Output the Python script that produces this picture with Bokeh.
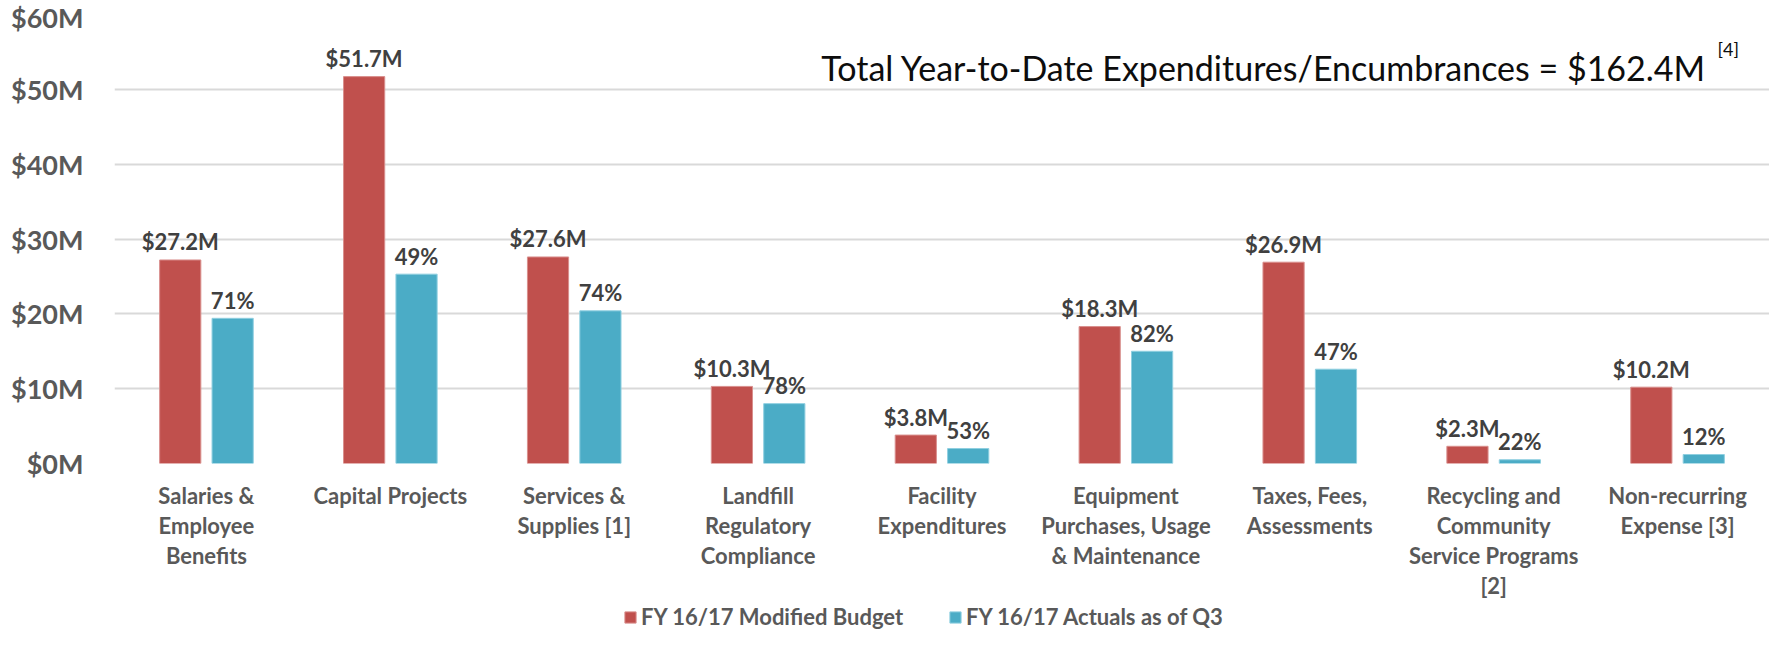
from bokeh.plotting import figure
from bokeh.layouts import column
from bokeh.models import ColumnDataSource, FixedTicker, Range1d, Legend, LegendItem, Label
from bokeh.transform import dodge
from bokeh.core.properties import value
from bokeh.embed import file_html
from bokeh.resources import INLINE

categories = [
    "Salaries &\nEmployee\nBenefits",
    "Capital Projects",
    "Services &\nSupplies [1]",
    "Landfill\nRegulatory\nCompliance",
    "Facility\nExpenditures",
    "Equipment\nPurchases, Usage\n& Maintenance",
    "Taxes, Fees,\nAssessments",
    "Recycling and\nCommunity\nService Programs\n[2]",
    "Non-recurring\nExpense [3]",
]
budget = [27.2, 51.7, 27.6, 10.3, 3.8, 18.3, 26.9, 2.3, 10.2]
actuals = [19.4, 25.3, 20.4, 8.0, 2.0, 15.0, 12.6, 0.5, 1.2]
pct_spent = [71, 49, 74, 78, 53, 82, 47, 22, 12]
y_ticks = [0, 10, 20, 30, 40, 50, 60]
y_tick_labels = ["$0M", "$10M", "$20M", "$30M", "$40M", "$50M", "$60M"]
series_names = ["FY 16/17 Modified Budget", "FY 16/17 Actuals as of Q3"]
title_text = "Total Year-to-Date Expenditures/Encumbrances = $162.4M"
title_note = "[4]"

RED = "#C0504D"
BLUE = "#4BACC6"
RED_EDGE = "#d98f8d"
BLUE_EDGE = "#8fcfe0"
FONT = "Lato"

xs = list(range(len(categories)))
src = ColumnDataSource(dict(
    x=xs,
    budget=budget,
    actuals=actuals,
    blabel=["$%.1fM" % v for v in budget],
    alabel=["%d%%" % v for v in pct_spent],
))

p = figure(width=1769, height=602, output_backend="svg", toolbar_location=None,
           x_range=Range1d(-0.5, len(categories) - 0.5), y_range=Range1d(0, 60),
           min_border_left=114, min_border_right=0, min_border_top=14, min_border_bottom=138)
p.outline_line_color = None
p.background_fill_color = "white"

off = 0.1425
bw = 0.224
p.vbar(x=dodge("x", -off, range=p.x_range), top="budget", width=bw, source=src,
       fill_color=RED, line_color=RED_EDGE, line_width=1)
p.vbar(x=dodge("x", off, range=p.x_range), top="actuals", width=bw, source=src,
       fill_color=BLUE, line_color=BLUE_EDGE, line_width=1)

common = dict(text_align="center", text_baseline="alphabetic", y_offset=-18,
              text_font=value(FONT), text_font_style="bold", text_font_size="22px",
              text_color="#404040")
p.text(x=dodge("x", -off, range=p.x_range), y="budget", text="blabel", source=src, **common)
p.text(x=dodge("x", off, range=p.x_range), y="actuals", text="alabel", source=src, **common)

# axes
p.yaxis.ticker = FixedTicker(ticks=y_ticks)
p.yaxis.major_label_overrides = dict(zip(y_ticks, y_tick_labels))
p.yaxis.axis_line_color = None
p.yaxis.major_tick_line_color = None
p.yaxis.minor_tick_line_color = None
p.yaxis.major_tick_out = 0
p.yaxis.major_label_standoff = 31
p.yaxis.major_label_text_font = FONT
p.yaxis.major_label_text_font_style = "bold"
p.yaxis.major_label_text_font_size = "27px"
p.yaxis.major_label_text_color = "#595959"

p.xaxis.ticker = FixedTicker(ticks=xs)
p.xaxis.major_label_overrides = dict(zip(xs, categories))
p.xaxis.axis_line_color = None
p.xaxis.major_tick_line_color = None
p.xaxis.minor_tick_line_color = None
p.xaxis.major_tick_out = 0
p.xaxis.major_label_standoff = 18
p.xaxis.major_label_text_font = FONT
p.xaxis.major_label_text_font_style = "bold"
p.xaxis.major_label_text_font_size = "22px"
p.xaxis.major_label_text_color = "#595959"
p.xaxis.major_label_text_line_height = 1.12

p.xgrid.grid_line_color = None
p.ygrid.grid_line_color = "#d9d9d9"
p.ygrid.grid_line_width = 2

# title annotation
p.add_layout(Label(x=8.157, y=52.93, text=title_text, text_align="right",
                   text_baseline="alphabetic", text_font=FONT, text_font_size="34px",
                   text_color="#0d0d0d"))
p.add_layout(Label(x=8.217, y=55.33, text=title_note, text_align="left",
                   text_baseline="alphabetic", text_font=FONT, text_font_size="18px",
                   text_color="#0d0d0d"))

# legend strip below the chart (its frame is aligned with the chart frame)
pl = figure(width=1769, height=28, output_backend="svg", toolbar_location=None,
            x_range=Range1d(0, 1), y_range=Range1d(0, 1),
            min_border_left=0, min_border_right=0, min_border_top=0, min_border_bottom=0,
            x_axis_location=None, y_axis_location=None)
pl.outline_line_color = None
pl.grid.visible = False
lr1 = pl.vbar(x=[5], top=[1], width=0.1, fill_color=RED, line_color=RED_EDGE, line_width=1)
lr2 = pl.vbar(x=[5], top=[1], width=0.1, fill_color=BLUE, line_color=BLUE_EDGE, line_width=1)

legend = Legend(items=[LegendItem(label=series_names[0], renderers=[lr1]),
                       LegendItem(label=series_names[1], renderers=[lr2])],
                orientation="horizontal", location=(509, 0))
legend.glyph_width = 14
legend.glyph_height = 14
legend.label_standoff = 4
legend.label_width = 305
legend.spacing = 2
legend.padding = 0
legend.margin = 0
legend.border_line_color = None
legend.background_fill_alpha = 0
legend.label_text_font = FONT
legend.label_text_font_style = "bold"
legend.label_text_font_size = "22px"
legend.label_text_color = "#595959"
pl.add_layout(legend, "center")

layout = column(p, pl, spacing=0)
open("out.html", "w").write(file_html(layout, INLINE))
